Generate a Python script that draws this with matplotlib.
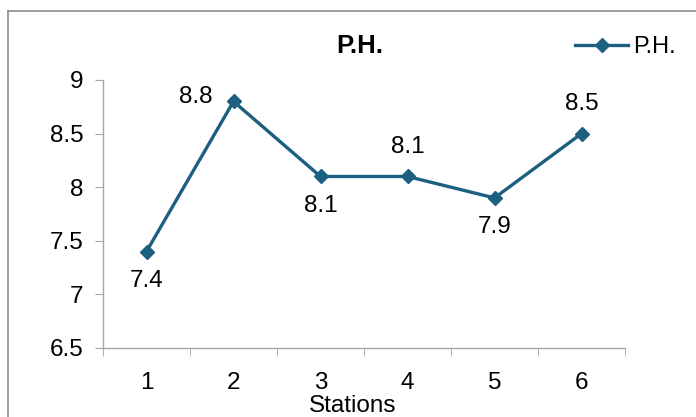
import matplotlib.pyplot as plt
from matplotlib.lines import Line2D

stations = [1, 2, 3, 4, 5, 6]
ph = [7.4, 8.8, 8.1, 8.1, 7.9, 8.5]
# where each data label sits relative to its point
label_pos = ['below', 'left', 'below', 'above', 'below', 'above']

plt.rcParams['font.family'] = ['Liberation Sans', 'DejaVu Sans']
color = '#1d5f80'
axis_grey = '#a6a6a6'
fs = 17.5

fig = plt.figure(figsize=(6.96, 4.17), dpi=100)
ax = fig.add_axes([103 / 696, 1 - 348 / 417, 522 / 696, 268 / 417])

ax.plot(stations, ph, color=color, lw=2.4, marker='D', markersize=7.5, label='P.H.')

for x, y, pos in zip(stations, ph, label_pos):
    if pos == 'below':
        ax.annotate(f'{y}', (x, y), xytext=(0, -21), textcoords='offset points',
                    ha='center', va='center', fontsize=fs)
    elif pos == 'above':
        ax.annotate(f'{y}', (x, y), xytext=(0, 21), textcoords='offset points',
                    ha='center', va='center', fontsize=fs)
    else:
        ax.annotate(f'{y}', (x, y), xytext=(-27, 3), textcoords='offset points',
                    ha='center', va='center', fontsize=fs)

ax.set_xlim(0.5, 6.5)
ax.set_ylim(6.5, 9)
ax.set_yticks([6.5, 7, 7.5, 8, 8.5, 9])
ax.set_yticklabels(['6.5', '7', '7.5', '8', '8.5', '9'])
ax.set_xticks(stations)
ax.set_xticks([0.5 + i for i in range(7)], minor=True)
ax.tick_params(axis='x', which='major', length=0, pad=17, labelsize=fs)
ax.tick_params(axis='x', which='minor', length=6, color=axis_grey, direction='out')
ax.tick_params(axis='y', length=6, color=axis_grey, labelsize=fs, pad=8)

for side in ['top', 'right']:
    ax.spines[side].set_visible(False)
for side in ['left', 'bottom']:
    ax.spines[side].set_color(axis_grey)
    ax.spines[side].set_linewidth(1)

fig.text(353 / 696, 1 - 406 / 417, 'Stations', ha='center', va='center', fontsize=fs)
fig.text(360 / 696, 1 - 46 / 417, 'P.H.', ha='center', va='center', fontsize=18.5,
         fontweight='bold')

ax.legend(loc='center left', bbox_to_anchor=(575 / 696, 1 - 47 / 417),
          bbox_transform=fig.transFigure, frameon=False, fontsize=17,
          handlelength=2.25, handletextpad=0.2, borderpad=0, borderaxespad=0)

# outer chart border (only top and left edges are inside the picture)
fig.add_artist(Line2D([8 / 696, 8 / 696], [0, 1 - 11 / 417], color='#8c8c8c', lw=1.2,
                      transform=fig.transFigure))
fig.add_artist(Line2D([8 / 696, 1], [1 - 11 / 417, 1 - 11 / 417], color='#8c8c8c',
                      lw=1.2, transform=fig.transFigure))

plt.savefig('out.png', dpi=100)
plt.close()
